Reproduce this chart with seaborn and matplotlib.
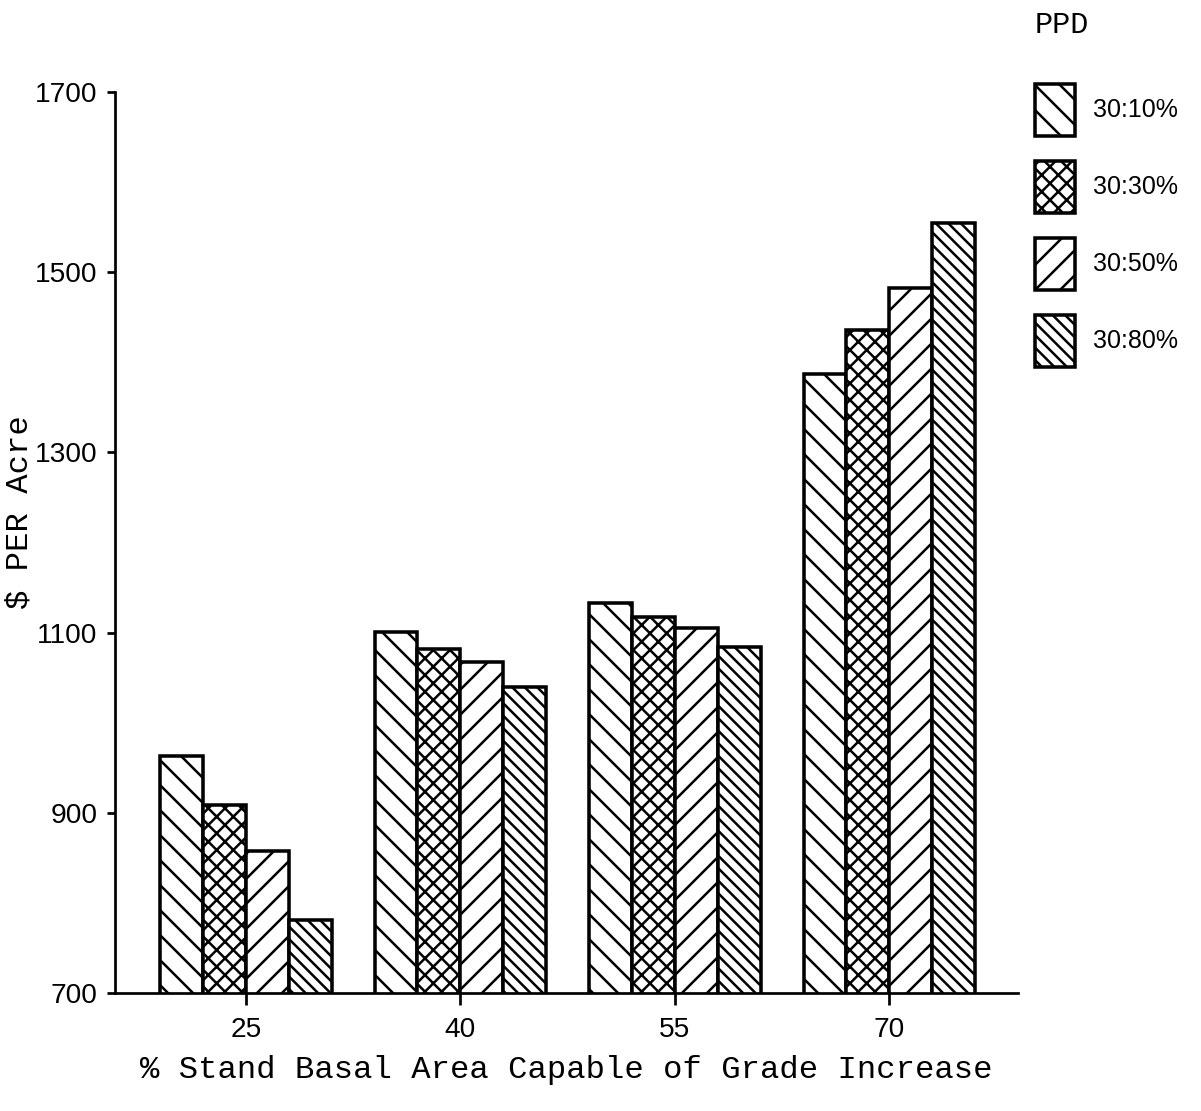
import matplotlib
matplotlib.use("Agg")
import matplotlib.pyplot as plt
from matplotlib.patches import Patch
import pandas as pd
import seaborn as sns

# ---- data ----
categories = ["25", "40", "55", "70"]
series = ["30:10%", "30:30%", "30:50%", "30:80%"]
v_30_10 = [963, 1101, 1133, 1387]
v_30_30 = [909, 1082, 1117, 1436]
v_30_50 = [858, 1067, 1105, 1482]
v_30_80 = [781, 1040, 1084, 1555]
y_ticks = [700, 900, 1100, 1300, 1500, 1700]
hatches = ["\\\\", "xxx", "//", "\\\\\\\\"]

rows = []
for s, vals in zip(series, [v_30_10, v_30_30, v_30_50, v_30_80]):
    for c, v in zip(categories, vals):
        rows.append({"basal": c, "ppd": s, "value": v})
df = pd.DataFrame(rows)

sns.set_style("ticks")
plt.rcParams["font.family"] = ["Liberation Sans", "DejaVu Sans"]
for k in ["text.color", "axes.labelcolor", "xtick.color", "ytick.color", "axes.edgecolor"]:
    plt.rcParams[k] = "black"
plt.rcParams["hatch.linewidth"] = 1.2
plt.rcParams["hatch.color"] = "black"

DPI = 150
W, H = 1201, 1111
fig = plt.figure(figsize=(W / DPI, H / DPI), dpi=DPI)
ax = fig.add_axes([115 / W, 1 - 993 / H, 903 / W, 901 / H])

sns.barplot(data=df, x="basal", y="value", hue="ppd", order=categories,
            hue_order=series, palette=["white"] * 4, saturation=1,
            edgecolor="black", linewidth=1.7, width=0.8, ax=ax, legend=False,
            errorbar=None)

for cont, h in zip(ax.containers, hatches):
    for bar in cont:
        bar.set_hatch(h)

ax.set_ylim(700, 1700)
ax.set_yticks(y_ticks)
ax.set_xlim(-0.61, 3.6)
sns.despine(ax=ax)
for sp in ["left", "bottom"]:
    ax.spines[sp].set_linewidth(1.3)

ax.tick_params(axis="y", length=3.9, width=1.3, pad=4.5, labelsize=13.5)
ax.tick_params(axis="x", length=5.8, width=1.3, pad=5.5, labelsize=13.5)

mono = ["Liberation Mono", "DejaVu Sans Mono"]
ax.set_xlabel("% Stand Basal Area Capable of Grade Increase",
              family=mono, fontsize=15.5, labelpad=6)
ax.set_ylabel("$ PER Acre", family=mono, fontsize=15.5)
ax.yaxis.set_label_coords(-0.089, 0.534)

handles = [Patch(facecolor="white", edgecolor="black", linewidth=1.7, hatch=h, label=s)
           for s, h in zip(series, hatches)]
ax.legend(handles=handles, loc="upper left",
          bbox_to_anchor=(1035 / W, 1 - 84 / H), bbox_transform=fig.transFigure,
          frameon=False, fontsize=12, handlelength=1.6, handleheight=2.82,
          labelspacing=1.0, handletextpad=0.72, borderpad=0, borderaxespad=0)
fig.text(1035 / W, 1 - 11 / H, "PPD", family=mono, fontsize=14.5,
         ha="left", va="top")

fig.savefig("out.png", dpi=DPI)
